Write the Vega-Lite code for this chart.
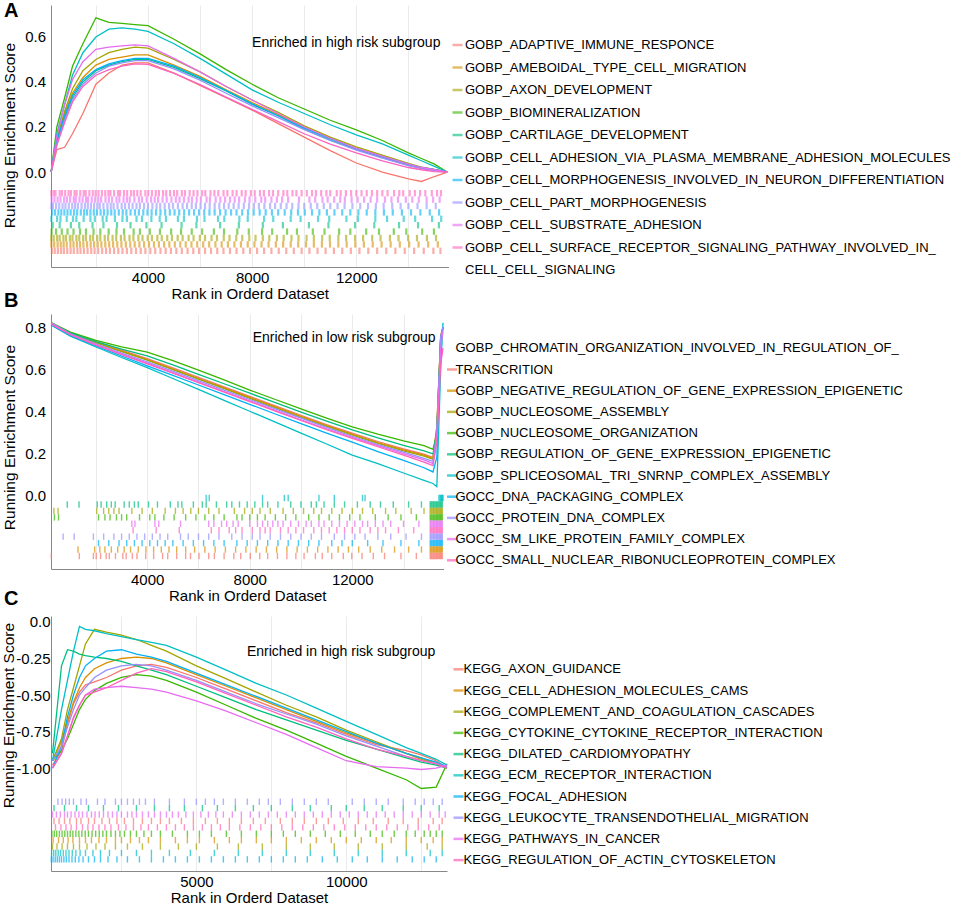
{
  "$schema": "https://vega.github.io/schema/vega-lite/v6.json",
  "background": "white",
  "padding": {"left": 0, "top": 1, "right": 0, "bottom": 0},
  "spacing": 47,
  "bounds": "flush",
  "resolve": {"scale": {"x": "independent", "y": "independent", "color": "independent"}, "legend": {"color": "independent"}},
  "datasets": {
    "note": [{}],
    "curveA": [
      {"set": "GOBP_ADAPTIVE_IMMUNE_RESPONCE", "rank": [280,500,800,1100,1500,2000,2500,3000,3500,4000,5000,6000,7000,8000,9000,10000,11000,12000,13000,14000,14500,15000,15490], "es": [0,0.10,0.11,0.17,0.26,0.39,0.44,0.475,0.485,0.485,0.44,0.385,0.33,0.275,0.215,0.155,0.095,0.04,0.0,-0.03,-0.042,-0.02,0.0]},
      {"set": "GOBP_AMEBOIDAL_TYPE_CELL_MIGRATION", "rank": [280,500,800,1100,1500,2000,2500,3000,3500,4000,5000,6000,7000,8000,9000,10000,11000,12000,13000,14000,14500,15000,15490], "es": [0,0.15,0.26,0.35,0.42,0.475,0.5,0.51,0.52,0.52,0.475,0.425,0.365,0.308,0.255,0.2,0.15,0.105,0.07,0.035,0.02,0.01,0.0]},
      {"set": "GOBP_AXON_DEVELOPMENT", "rank": [280,500,800,1100,1500,2000,2500,3000,3500,4000,5000,6000,7000,8000,9000,10000,11000,12000,13000,14000,14500,15000,15490], "es": [0,0.15,0.27,0.37,0.45,0.5,0.53,0.545,0.555,0.55,0.5,0.445,0.38,0.32,0.265,0.205,0.155,0.112,0.075,0.038,0.022,0.012,0.0]},
      {"set": "GOBP_BIOMINERALIZATION", "rank": [280,500,800,1100,1500,2000,2500,3000,3500,4000,5000,6000,7000,8000,9000,10000,11000,12000,13000,14000,14500,15000,15490], "es": [0,0.2,0.33,0.47,0.57,0.685,0.665,0.66,0.655,0.65,0.59,0.525,0.455,0.39,0.33,0.28,0.23,0.187,0.14,0.085,0.06,0.035,0.0]},
      {"set": "GOBP_CARTILAGE_DEVELOPMENT", "rank": [280,500,800,1100,1500,2000,2500,3000,3500,4000,5000,6000,7000,8000,9000,10000,11000,12000,13000,14000,14500,15000,15490], "es": [0,0.13,0.24,0.33,0.4,0.45,0.475,0.49,0.5,0.5,0.465,0.415,0.36,0.3,0.25,0.19,0.142,0.1,0.065,0.03,0.018,0.008,0.0]},
      {"set": "GOBP_CELL_ADHESION_VIA_PLASMA_MEMBRANE_ADHESION_MOLECULES", "rank": [280,500,800,1100,1500,2000,2500,3000,3500,4000,5000,6000,7000,8000,9000,10000,11000,12000,13000,14000,14500,15000,15490], "es": [0,0.17,0.3,0.43,0.53,0.6,0.635,0.64,0.635,0.625,0.57,0.505,0.435,0.365,0.31,0.26,0.21,0.165,0.125,0.075,0.05,0.025,0.0]},
      {"set": "GOBP_CELL_MORPHOGENESIS_INVOLVED_IN_NEURON_DIFFERENTIATION", "rank": [280,500,800,1100,1500,2000,2500,3000,3500,4000,5000,6000,7000,8000,9000,10000,11000,12000,13000,14000,14500,15000,15490], "es": [0,0.14,0.25,0.34,0.41,0.455,0.48,0.495,0.505,0.505,0.47,0.42,0.362,0.303,0.25,0.195,0.148,0.104,0.068,0.034,0.02,0.01,0.0]},
      {"set": "GOBP_CELL_PART_MORPHOGENESIS", "rank": [280,500,800,1100,1500,2000,2500,3000,3500,4000,5000,6000,7000,8000,9000,10000,11000,12000,13000,14000,14500,15000,15490], "es": [0,0.12,0.23,0.32,0.39,0.44,0.47,0.485,0.495,0.495,0.458,0.408,0.35,0.294,0.242,0.188,0.14,0.097,0.062,0.028,0.015,0.006,0.0]},
      {"set": "GOBP_CELL_SUBSTRATE_ADHESION", "rank": [280,500,800,1100,1500,2000,2500,3000,3500,4000,5000,6000,7000,8000,9000,10000,11000,12000,13000,14000,14500,15000,15490], "es": [0,0.16,0.3,0.41,0.49,0.545,0.555,0.56,0.565,0.56,0.505,0.445,0.38,0.32,0.26,0.2,0.15,0.105,0.07,0.035,0.02,0.01,0.0]},
      {"set": "GOBP_CELL_SURFACE_RECEPTOR_SIGNALING_PATHWAY_INVOLVED_IN_CELL_CELL_SIGNALING", "rank": [280,500,800,1100,1500,2000,2500,3000,3500,4000,5000,6000,7000,8000,9000,10000,11000,12000,13000,14000,14500,15000,15490], "es": [0,0.12,0.22,0.31,0.38,0.43,0.455,0.47,0.48,0.478,0.438,0.388,0.333,0.278,0.224,0.17,0.124,0.085,0.05,0.02,0.01,0.002,0.0]}
    ],
    "tickA": [
      {"set": "GOBP_CELL_SURFACE_RECEPTOR_SIGNALING_PATHWAY_INVOLVED_IN_CELL_CELL_SIGNALING", "row": 10, "rank": [290,380,450,610,700,820,950,1040,1180,1260,1400,1530,1610,1750,1880,1990,2100,2230,2360,2480,2560,2700,2850,2930,3080,3200,3350,3460,3590,3720,3900,4010,4150,4300,4420,4580,4700,4850,5000,5120,5300,5420,5600,5750,5900,6080,6200,6400,6550,6700,6900,7050,7250,7400,7600,7750,7950,8100,8300,8450,8650,8800,9000,9200,9350,9550,9700,9900,10100,10300,10450,10650,10850,11000,11250,11400,11600,11800,12000,12200,12400,12600,12800,13000,13200,13450,13650,13800,14050,14250,14450,14650,14900,15100,15250]},
      {"set": "GOBP_CELL_SUBSTRATE_ADHESION", "row": 9, "rank": [300,410,530,640,780,890,1010,1150,1230,1370,1490,1620,1700,1840,1970,2090,2200,2370,2500,2620,2790,2900,3060,3190,3300,3480,3650,3770,3950,4120,4260,4390,4560,4720,4900,5070,5210,5380,5560,5690,5870,6030,6250,6380,6600,6780,6960,7150,7330,7500,7720,7900,8120,8350,8500,8740,8950,9150,9380,9800,10200,10420,10700,10900,11150,11380,11560,11820,12050,12300,12550,12800,13100,13350,13600,13900,14150,14400,14700,14950,15200]},
      {"set": "GOBP_CELL_PART_MORPHOGENESIS", "row": 8, "rank": [290,350,470,590,720,830,960,1090,1200,1310,1450,1580,1690,1810,1930,2060,2150,2290,2440,2570,2680,2830,2990,3120,3270,3410,3560,3690,3850,4000,4170,4330,4470,4640,4810,4960,5150,5330,5500,5680,5840,6020,6190,6370,6560,6740,6920,7100,7290,7480,7680,7880,8070,8260,8470,8690,8880,9100,9320,9540,9780,10000,10250,10500,10750,11000,11280,11550,11850,12150,12450,12750,13050,13380,13700,14000,14350,14700,15050]},
      {"set": "GOBP_CELL_MORPHOGENESIS_INVOLVED_IN_NEURON_DIFFERENTIATION", "row": 7, "rank": [320,430,560,670,790,910,1030,1160,1280,1420,1550,1660,1790,1920,2040,2180,2310,2450,2590,2720,2880,3030,3170,3330,3500,3650,3820,3980,4140,4310,4480,4660,4840,5020,5200,5390,5580,5770,5960,6160,6360,6560,6770,6980,7190,7400,7620,7840,8060,8290,8520,8760,9000,9250,9500,9760,10020,10300,10580,10870,11160,11460,11770,12080,12400,12730,13060,13400,13750,14100,14460,14820,15180]},
      {"set": "GOBP_CELL_ADHESION_VIA_PLASMA_MEMBRANE_ADHESION_MOLECULES", "row": 6, "rank": [290,510,640,880,1120,1250,1530,1790,1960,2260,2410,2730,3020,3190,3560,3770,4130,4450,4690,5150,5380,5880,6170,6690,6930,7510,7830,8460,8810,9480,9860,10530,10960,11620,12060,12730,13180,13820,14260,14910,15260]},
      {"set": "GOBP_CARTILAGE_DEVELOPMENT", "row": 5, "rank": [340,610,1040,1360,1870,2290,2810,3330,3940,4520,5290,5860,6770,7490,8410,9180,10180,10930,11950,12690,13640,14370,15170]},
      {"set": "GOBP_BIOMINERALIZATION", "row": 4, "rank": [300,470,690,910,1140,1390,1620,1910,2170,2490,2790,3080,3450,3690,4070,4460,4890,5270,5680,6080,6530,6920,7430,7870,8380,8770,9340,9720,10330,10780,11340,11770,12380,12870,13440,13920,14530,14980]},
      {"set": "GOBP_AXON_DEVELOPMENT", "row": 3, "rank": [285,380,510,610,750,850,1000,1100,1250,1360,1510,1620,1780,1890,2050,2170,2340,2470,2640,2780,2960,3100,3290,3440,3630,3790,3990,4150,4360,4530,4740,4920,5140,5330,5560,5750,5990,6190,6440,6650,6910,7130,7390,7620,7890,8130,8410,8660,8950,9210,9510,9780,10090,10370,10690,10980,11310,11610,11950,12260,12610,12930,13290,13620,13990,14330,14710,15060]},
      {"set": "GOBP_AMEBOIDAL_TYPE_CELL_MIGRATION", "row": 2, "rank": [290,400,530,650,760,880,1020,1140,1270,1390,1520,1660,1800,1930,2070,2210,2360,2510,2660,2820,2980,3150,3320,3490,3670,3850,4040,4230,4420,4620,4820,5030,5240,5450,5670,5890,6120,6350,6590,6830,7070,7320,7570,7830,8090,8360,8630,8910,9190,9480,9770,10070,10370,10680,10990,11310,11630,11960,12290,12630,12970,13320,13670,14030,14390,14760,15130]},
      {"set": "GOBP_ADAPTIVE_IMMUNE_RESPONCE", "row": 1, "rank": [310,420,540,660,770,900,1030,1150,1290,1410,1540,1680,1820,1950,2090,2240,2390,2540,2700,2860,3020,3190,3360,3540,3720,3900,4090,4280,4480,4680,4880,5090,5300,5520,5740,5960,6190,6420,6660,6900,7150,7400,7660,7920,8190,8460,8740,9020,9310,9600,9900,10200,10510,10820,11140,11460,11790,12120,12460,12800,13150,13500,13860,14220,14590,14960,15230]}
    ],
    "curveB": [
      {"set": "GOBP_CHROMATIN_ORGANIZATION_INVOLVED_IN_REGULATION_OF_TRANSCRITION", "rank": [250,1000,2000,3000,4000,5000,6000,7000,8000,9000,10000,11000,12000,13000,14000,14800,15150,15300,15450,15540], "es": [0.82,0.775,0.73,0.69,0.65,0.605,0.56,0.515,0.47,0.425,0.38,0.335,0.295,0.255,0.22,0.195,0.18,0.33,0.76,0.8]},
      {"set": "GOBP_NEGATIVE_REGULATION_OF_GENE_EXPRESSION_EPIGENETIC", "rank": [250,1000,2000,3000,4000,5000,6000,7000,8000,9000,10000,11000,12000,13000,14000,14800,15150,15300,15450,15540], "es": [0.82,0.772,0.726,0.685,0.645,0.6,0.555,0.51,0.465,0.42,0.375,0.331,0.29,0.25,0.215,0.19,0.175,0.32,0.75,0.8]},
      {"set": "GOBP_NUCLEOSOME_ASSEMBLY", "rank": [250,1000,2000,3000,4000,5000,6000,7000,8000,9000,10000,11000,12000,13000,14000,14800,15150,15300,15450,15540], "es": [0.82,0.77,0.724,0.683,0.642,0.597,0.552,0.507,0.46,0.415,0.37,0.327,0.285,0.246,0.21,0.185,0.17,0.31,0.75,0.8]},
      {"set": "GOBP_NUCLEOSOME_ORGANIZATION", "rank": [250,1000,2000,3000,4000,5000,6000,7000,8000,9000,10000,11000,12000,13000,14000,14800,15150,15300,15450,15540], "es": [0.82,0.776,0.737,0.706,0.68,0.64,0.595,0.548,0.5,0.455,0.41,0.366,0.325,0.29,0.258,0.235,0.218,0.29,0.72,0.8]},
      {"set": "GOBP_REGULATION_OF_GENE_EXPRESSION_EPIGENETIC", "rank": [250,1000,2000,3000,4000,5000,6000,7000,8000,9000,10000,11000,12000,13000,14000,14800,15150,15300,15450,15540], "es": [0.82,0.772,0.73,0.695,0.663,0.62,0.575,0.53,0.485,0.44,0.395,0.352,0.31,0.272,0.236,0.21,0.196,0.3,0.74,0.8]},
      {"set": "GOBP_SPLICEOSOMAL_TRI_SNRNP_COMPLEX_ASSEMBLY", "rank": [250,1000,2000,3000,4000,5000,6000,7000,8000,9000,10000,11000,12000,13000,14000,14800,15150,15300,15450,15540], "es": [0.81,0.757,0.705,0.655,0.607,0.555,0.503,0.451,0.399,0.347,0.295,0.243,0.19,0.15,0.105,0.07,0.055,0.04,0.6,0.82]},
      {"set": "GOCC_DNA_PACKAGING_COMPLEX", "rank": [250,1000,2000,3000,4000,5000,6000,7000,8000,9000,10000,11000,12000,13000,14000,14800,15150,15300,15450,15540], "es": [0.81,0.76,0.71,0.662,0.615,0.57,0.524,0.478,0.432,0.386,0.34,0.295,0.252,0.207,0.165,0.13,0.11,0.18,0.75,0.8]},
      {"set": "GOCC_PROTEIN_DNA_COMPLEX", "rank": [250,1000,2000,3000,4000,5000,6000,7000,8000,9000,10000,11000,12000,13000,14000,14800,15150,15300,15450,15540], "es": [0.82,0.768,0.72,0.676,0.634,0.59,0.545,0.5,0.455,0.41,0.366,0.322,0.28,0.24,0.204,0.175,0.16,0.3,0.75,0.8]},
      {"set": "GOCC_SM_LIKE_PROTEIN_FAMILY_COMPLEX", "rank": [250,1000,2000,3000,4000,5000,6000,7000,8000,9000,10000,11000,12000,13000,14000,14800,15150,15300,15450,15540], "es": [0.815,0.765,0.716,0.671,0.628,0.583,0.538,0.493,0.448,0.403,0.358,0.315,0.275,0.235,0.197,0.167,0.15,0.28,0.7,0.78]},
      {"set": "GOCC_SMALL_NUCLEAR_RIBONUCLEOPROTEIN_COMPLEX", "rank": [250,1000,2000,3000,4000,5000,6000,7000,8000,9000,10000,11000,12000,13000,14000,14800,15150,15300,15450,15540], "es": [0.815,0.764,0.714,0.668,0.625,0.58,0.535,0.49,0.445,0.4,0.355,0.311,0.27,0.23,0.19,0.157,0.14,0.25,0.62,0.7]}
    ],
    "tickB": [
      {"set": "GOBP_SPLICEOSOMAL_TRI_SNRNP_COMPLEX_ASSEMBLY", "row": 10, "rank": [6300,6420,8500,9350,9500,10700,11300,12400,12500,15380,15420,15450,15480,15500,15520,15540]},
      {"set": "GOBP_REGULATION_OF_GENE_EXPRESSION_EPIGENETIC", "row": 9, "rank": [880,1340,2050,2200,2420,2600,2750,3100,3300,3500,3650,4050,4400,4900,5200,5350,5800,6150,6300,6700,7100,7300,7600,7900,8200,8500,8700,9100,9600,10000,10400,10600,10900,11300,11700,12200,12700,13100,13600,14200,14700,15040,15075,15110,15150,15180,15220,15260,15295,15330,15370,15410,15445,15480,15515]},
      {"set": "GOBP_NUCLEOSOME_ASSEMBLY", "row": 8, "rank": [360,520,2030,2300,2500,2700,2900,3400,3800,4200,4700,5100,5400,5700,6000,6400,6800,7400,7800,8100,8400,8800,9300,9700,10100,10500,10800,11200,11600,12000,12400,12800,13300,13700,14300,14800,15040,15075,15110,15150,15180,15220,15260,15295,15330,15370,15410,15445,15480,15515]},
      {"set": "GOBP_NUCLEOSOME_ORGANIZATION", "row": 7, "rank": [380,540,2100,2350,2550,2800,3000,3200,3700,4100,4300,4650,5050,5500,5900,6250,6600,7000,7500,7700,8000,8300,8600,9000,9400,9800,10300,10700,11100,11500,11900,12300,12900,13400,13900,14500,15040,15075,15110,15150,15180,15220,15260,15295,15330,15370,15410,15445,15480,15515]},
      {"set": "GOCC_SM_LIKE_PROTEIN_FAMILY_COMPLEX", "row": 6, "rank": [3400,3520,4300,4450,5300,6400,6600,6900,7100,7350,7550,8000,8300,8500,8700,8900,9100,9300,9600,9900,10200,10400,10700,10900,11200,11500,11800,12100,12400,12600,12900,13200,13500,14000,14600,15040,15075,15110,15150,15180,15220,15260,15295,15330,15370,15410,15445,15480,15515]},
      {"set": "GOCC_SMALL_NUCLEAR_RIBONUCLEOPROTEIN_COMPLEX", "row": 5, "rank": [3450,4350,5250,6500,6800,7200,7450,7700,8100,8400,8600,8800,9200,9500,9800,10100,10500,10800,11100,11400,11700,12000,12300,12700,13000,13300,13800,14400,15040,15075,15110,15150,15180,15220,15260,15295,15330,15370,15410,15445,15480,15515]},
      {"set": "GOCC_PROTEIN_DNA_COMPLEX", "row": 4, "rank": [720,1150,1900,2300,2700,3000,3300,3600,3900,4200,4500,4800,5300,5600,6000,6400,6800,7300,7700,8100,8400,8800,9200,9600,10000,10400,10800,11300,11700,12100,12500,13000,13500,14100,14700,15040,15075,15110,15150,15180,15220,15260,15295,15330,15370,15410,15445,15480,15515]},
      {"set": "GOCC_DNA_PACKAGING_COMPLEX", "row": 3, "rank": [2100,2500,2900,3200,3500,3800,4100,4400,4700,5000,5400,5800,6200,6600,7000,7500,7900,8300,8700,9100,9500,9900,10300,10700,11200,11600,12000,12600,13200,13900,14600,15040,15075,15110,15150,15180,15220,15260,15295,15330,15370,15410,15445,15480,15515]},
      {"set": "GOBP_NEGATIVE_REGULATION_OF_GENE_EXPRESSION_EPIGENETIC", "row": 2, "rank": [1300,1950,2150,2350,2600,2850,3100,3350,3650,3950,4250,4550,4850,5150,5500,5850,6250,6650,7050,7450,7850,8250,8650,9050,9450,9850,10250,10650,11050,11450,11850,12250,12700,13150,13650,14200,14700,15040,15075,15110,15150,15180,15220,15260,15295,15330,15370,15410,15445,15480,15515]},
      {"set": "GOBP_CHROMATIN_ORGANIZATION_INVOLVED_IN_REGULATION_OF_TRANSCRITION", "row": 1, "rank": [260,1350,1900,2010,2180,2400,2520,2760,3050,3180,3420,3600,3940,4250,4600,4800,5150,5500,5690,6020,6400,6620,7000,7380,7650,8020,8390,8700,9080,9450,9800,10120,10560,10830,11200,11650,11980,12380,12820,13260,13900,14500,15040,15075,15110,15150,15180,15220,15260,15295,15330,15370,15410,15445,15480,15515]}
    ],
    "curveC": [
      {"set": "KEGG_AXON_GUIDANCE", "rank": [200,500,700,900,1100,1300,1600,2000,2500,3000,3500,4000,5000,6000,7000,8000,9000,10000,11000,12000,12500,13000,13360], "es": [-0.98,-0.88,-0.7,-0.56,-0.48,-0.43,-0.41,-0.38,-0.33,-0.3,-0.29,-0.31,-0.38,-0.46,-0.54,-0.62,-0.69,-0.77,-0.84,-0.88,-0.91,-0.95,-1.0]},
      {"set": "KEGG_CELL_ADHESION_MOLECULES_CAMS", "rank": [200,500,700,900,1100,1300,1600,2000,2500,3000,3500,4000,5000,6000,7000,8000,9000,10000,11000,12000,12500,13000,13360], "es": [-0.95,-0.82,-0.68,-0.55,-0.45,-0.38,-0.32,-0.28,-0.25,-0.24,-0.25,-0.28,-0.36,-0.44,-0.52,-0.6,-0.68,-0.76,-0.83,-0.9,-0.94,-0.97,-1.0]},
      {"set": "KEGG_COMPLEMENT_AND_COAGULATION_CASCADES", "rank": [200,500,700,900,1100,1300,1600,2000,2500,3000,3500,4000,5000,6000,7000,8000,9000,10000,11000,12000,12500,13000,13360], "es": [-0.95,-0.8,-0.6,-0.45,-0.3,-0.15,-0.05,-0.07,-0.09,-0.12,-0.16,-0.2,-0.3,-0.39,-0.48,-0.57,-0.65,-0.74,-0.82,-0.9,-0.93,-0.97,-0.99]},
      {"set": "KEGG_CYTOKINE_CYTOKINE_RECEPTOR_INTERACTION", "rank": [200,500,700,900,1100,1300,1600,2000,2500,3000,3500,4000,5000,6000,7000,8000,9000,10000,11000,12000,12500,13000,13360], "es": [-0.95,-0.88,-0.8,-0.7,-0.6,-0.53,-0.47,-0.42,-0.38,-0.36,-0.37,-0.4,-0.48,-0.57,-0.66,-0.74,-0.83,-0.92,-1.0,-1.08,-1.14,-1.13,-0.97]},
      {"set": "KEGG_DILATED_CARDIOMYOPATHY", "rank": [200,500,700,900,1100,1300,1600,2000,2500,3000,3500,4000,5000,6000,7000,8000,9000,10000,11000,12000,12500,13000,13360], "es": [-0.9,-0.3,-0.19,-0.2,-0.22,-0.23,-0.24,-0.25,-0.27,-0.3,-0.33,-0.36,-0.44,-0.52,-0.6,-0.67,-0.74,-0.81,-0.87,-0.93,-0.96,-0.98,-1.0]},
      {"set": "KEGG_ECM_RECEPTOR_INTERACTION", "rank": [200,500,700,900,1100,1300,1600,2000,2500,3000,3500,4000,5000,6000,7000,8000,9000,10000,11000,12000,12500,13000,13360], "es": [-0.95,-0.6,-0.4,-0.2,-0.03,-0.05,-0.06,-0.08,-0.1,-0.12,-0.14,-0.16,-0.24,-0.33,-0.42,-0.5,-0.59,-0.68,-0.77,-0.86,-0.9,-0.94,-0.98]},
      {"set": "KEGG_FOCAL_ADHESION", "rank": [200,500,700,900,1100,1300,1600,2000,2500,3000,3500,4000,5000,6000,7000,8000,9000,10000,11000,12000,12500,13000,13360], "es": [-1.0,-0.85,-0.65,-0.5,-0.38,-0.3,-0.25,-0.2,-0.19,-0.22,-0.24,-0.27,-0.35,-0.43,-0.51,-0.59,-0.67,-0.75,-0.83,-0.9,-0.93,-0.96,-0.99]},
      {"set": "KEGG_LEUKOCYTE_TRANSENDOTHELIAL_MIGRATION", "rank": [200,500,700,900,1100,1300,1600,2000,2500,3000,3500,4000,5000,6000,7000,8000,9000,10000,11000,12000,12500,13000,13360], "es": [-0.95,-0.85,-0.72,-0.6,-0.5,-0.45,-0.38,-0.33,-0.3,-0.29,-0.3,-0.33,-0.4,-0.48,-0.56,-0.63,-0.7,-0.78,-0.85,-0.92,-0.95,-0.97,-0.99]},
      {"set": "KEGG_PATHWAYS_IN_CANCER", "rank": [200,500,700,900,1100,1300,1600,2000,2500,3000,3500,4000,5000,6000,7000,8000,9000,10000,11000,12000,12500,13000,13360], "es": [-1.0,-0.9,-0.78,-0.66,-0.57,-0.5,-0.46,-0.45,-0.44,-0.45,-0.46,-0.48,-0.54,-0.61,-0.69,-0.77,-0.86,-0.95,-0.99,-1.0,-1.01,-1.0,-0.98]},
      {"set": "KEGG_REGULATION_OF_ACTIN_CYTOSKELETON", "rank": [200,500,700,900,1100,1300,1600,2000,2500,3000,3500,4000,5000,6000,7000,8000,9000,10000,11000,12000,12500,13000,13360], "es": [-1.0,-0.9,-0.78,-0.65,-0.57,-0.5,-0.48,-0.45,-0.4,-0.35,-0.32,-0.34,-0.41,-0.49,-0.57,-0.65,-0.72,-0.8,-0.87,-0.92,-0.95,-0.97,-1.0]}
    ],
    "tickC": [
      {"set": "KEGG_LEUKOCYTE_TRANSENDOTHELIAL_MIGRATION", "row": 10, "rank": [380,520,640,760,900,1150,1330,1700,1950,2300,2500,2700,2900,3100,3300,3600,4100,4600,5000,5300,5600,5900,6300,6700,7100,7400,7800,8200,8600,9000,9400,10200,10600,11000,11400,11900,12300,12600,12900,13200]},
      {"set": "KEGG_DILATED_CARDIOMYOPATHY", "row": 9, "rank": [250,600,1000,1400,1900,2400,3000,3600,4100,4600,5200,5700,6300,6900,7500,8200,8800,9500,10000,10600,11200,11900,12500,13100]},
      {"set": "KEGG_PATHWAYS_IN_CANCER", "row": 8, "rank": [200,330,460,600,700,820,950,1080,1200,1350,1500,1620,1760,1900,2050,2200,2350,2500,2700,2850,3000,3200,3400,3600,3800,4000,4200,4400,4650,4900,5150,5400,5650,5900,6200,6500,6800,7100,7400,7700,8000,8300,8600,8900,9200,9500,9800,10100,10400,10700,11000,11300,11600,11900,12200,12500,12800,13100,13300]},
      {"set": "KEGG_AXON_GUIDANCE", "row": 7, "rank": [250,420,600,780,1000,1150,1400,1600,1850,2100,2350,2600,2900,3200,3500,3800,4100,4500,4900,5300,5700,6100,6500,6900,7300,7800,8200,8600,9000,9400,9900,10400,10900,11400,11900,12400,12900,13200]},
      {"set": "KEGG_REGULATION_OF_ACTIN_CYTOSKELETON", "row": 6, "rank": [300,480,650,820,1000,1200,1380,1550,1750,1950,2150,2400,2650,2900,3150,3400,3700,4000,4300,4600,4900,5200,5500,5800,6100,6450,6800,7150,7500,7850,8200,8550,8900,9250,9600,9950,10300,10650,11000,11350,11700,12050,12400,12750,13100]},
      {"set": "KEGG_CYTOKINE_CYTOKINE_RECEPTOR_INTERACTION", "row": 5, "rank": [180,260,340,430,520,610,700,790,880,980,1080,1180,1290,1400,1520,1640,1760,1880,2000,2150,2300,2450,2600,2800,3000,3250,3500,3800,4200,4700,5100,5500,6000,6500,7000,7500,7900,8300,8800,9300,9800,10300,10800,11200,11600,12000,12300,12600,12800,13000,13200]},
      {"set": "KEGG_CELL_ADHESION_MOLECULES_CAMS", "row": 4, "rank": [220,400,560,720,880,1100,1300,1500,1750,2000,2300,2500,2800,3100,3400,3800,4300,4700,5100,5600,6100,6500,7000,7500,8000,8500,9000,9500,10000,10500,11000,11500,12000,12500,12900,13200]},
      {"set": "KEGG_COMPLEMENT_AND_COAGULATION_CASCADES", "row": 3, "rank": [200,350,520,700,900,1100,1350,1650,1950,2300,2700,3200,3800,4400,5000,5700,6400,7200,8000,8800,9600,10400,11200,12000,12700,13200]},
      {"set": "KEGG_ECM_RECEPTOR_INTERACTION", "row": 2, "rank": [170,240,310,390,470,560,650,750,860,980,1120,1300,1550,1800,2100,2500,3000,3500,4100,4800,5600,6400,7200,8000,8800,9600,10400,11200,12000,12800,13200]},
      {"set": "KEGG_FOCAL_ADHESION", "row": 1, "rank": [160,220,290,360,430,500,580,660,750,850,960,1080,1220,1400,1600,1800,2050,2350,2700,3100,3500,3900,4300,4700,5100,5500,5900,6300,6700,7100,7500,7900,8300,8700,9200,9700,10200,10700,11200,11700,12200,12600,13000]}
    ]
  },
  "vconcat": [
    {
      "width": 397.5,
      "height": 262,
      "layer": [
        {
          "layer": [
            {
              "data": {"name": "curveA"},
              "transform": [{"flatten": ["rank", "es"]}],
              "mark": {"type": "line", "strokeWidth": 1.3},
              "encoding": {
                "x": {"field": "rank", "type": "quantitative", "scale": {"domain": [276, 15540], "nice": false, "zero": false},
                      "axis": {"values": [2000, 4000, 6000, 8000, 10000, 12000, 14000], "format": "d", "labelExpr": "datum.value % 4000 == 0 ? datum.label : ''", "title": "Rank in Orderd Dataset"}},
                "y": {"field": "es", "type": "quantitative", "scale": {"domain": [-0.422, 0.742], "nice": false, "zero": false},
                      "axis": {"values": [0, 0.2, 0.4, 0.6], "format": ".1f", "title": "Running Enrichment Score", "labelPadding": 5.5, "titleX": -34, "titleY": 130}},
                "color": {"field": "set", "type": "nominal",
                  "scale": {"domain": ["GOBP_ADAPTIVE_IMMUNE_RESPONCE", "GOBP_AMEBOIDAL_TYPE_CELL_MIGRATION", "GOBP_AXON_DEVELOPMENT", "GOBP_BIOMINERALIZATION", "GOBP_CARTILAGE_DEVELOPMENT", "GOBP_CELL_ADHESION_VIA_PLASMA_MEMBRANE_ADHESION_MOLECULES", "GOBP_CELL_MORPHOGENESIS_INVOLVED_IN_NEURON_DIFFERENTIATION", "GOBP_CELL_PART_MORPHOGENESIS", "GOBP_CELL_SUBSTRATE_ADHESION", "GOBP_CELL_SURFACE_RECEPTOR_SIGNALING_PATHWAY_INVOLVED_IN_CELL_CELL_SIGNALING", "CELL_CELL_SIGNALING"],
                            "range": ["#F8766D", "#D89000", "#A3A500", "#39B600", "#00BF7D", "#00BFC4", "#00B0F6", "#9590FF", "#E76BF3", "#FF62BC", "transparent"]},
                  "legend": {"title": null, "orient": "none", "legendX": 400, "legendY": 33.5, "direction": "vertical", "padding": 0, "rowPadding": 8.5, "symbolType": "stroke", "symbolSize": 100, "symbolStrokeWidth": 2.5, "symbolOpacity": 1, "labelFontSize": 13, "labelOffset": 1, "labelLimit": 800, "labelColor": "#000",
                    "labelExpr": "datum.label == 'GOBP_CELL_SURFACE_RECEPTOR_SIGNALING_PATHWAY_INVOLVED_IN_CELL_CELL_SIGNALING' ? 'GOBP_CELL_SURFACE_RECEPTOR_SIGNALING_PATHWAY_INVOLVED_IN_' : datum.label"}}
              }
            },
            {
              "data": {"name": "note"},
              "mark": {"type": "text", "align": "right", "baseline": "middle", "fontSize": 14, "color": "#000"},
              "encoding": {"x": {"datum": 15230, "type": "quantitative"}, "y": {"datum": 0.573, "type": "quantitative"}, "text": {"value": "Enriched in high risk subgroup"}}
            },
            {
              "data": {"name": "note"},
              "mark": {"type": "text", "align": "left", "baseline": "alphabetic", "fontSize": 20, "fontWeight": "bold", "color": "#000"},
              "encoding": {"x": {"datum": -1529, "type": "quantitative"}, "y": {"datum": 0.688, "type": "quantitative"}, "text": {"value": "A"}}
            }
          ]
        },
        {
          "data": {"name": "tickA"},
          "transform": [{"flatten": ["rank"]}],
          "mark": {"type": "tick", "orient": "vertical", "thickness": 2.2, "size": 6.4, "opacity": 0.6},
          "encoding": {
            "x": {"field": "rank", "type": "quantitative"},
            "y": {"field": "row", "type": "quantitative", "scale": {"domain": [-1.53, 39.41], "nice": false, "zero": false}, "axis": null},
            "color": {"field": "set", "type": "nominal"}
          }
        }
      ],
      "resolve": {"scale": {"y": "independent"}}
    },
    {
      "width": 392.5,
      "height": 255,
      "layer": [
        {
          "layer": [
            {
              "data": {"name": "curveB"},
              "transform": [{"flatten": ["rank", "es"]}],
              "mark": {"type": "line", "strokeWidth": 1.3},
              "encoding": {
                "x": {"field": "rank", "type": "quantitative", "scale": {"domain": [246, 15560], "nice": false, "zero": false},
                      "axis": {"values": [2000, 4000, 6000, 8000, 10000, 12000, 14000], "format": "d", "labelExpr": "datum.value % 4000 == 0 ? datum.label : ''", "title": "Rank in Orderd Dataset"}},
                "y": {"field": "es", "type": "quantitative", "scale": {"domain": [-0.352, 0.862], "nice": false, "zero": false},
                      "axis": {"values": [0, 0.2, 0.4, 0.6, 0.8], "format": ".1f", "title": "Running Enrichment Score", "labelPadding": 5.5, "titleX": -34, "titleY": 123}},
                "color": {"field": "set", "type": "nominal",
                  "scale": {"domain": ["GOBP_CHROMATIN_ORGANIZATION_INVOLVED_IN_REGULATION_OF_", "GOBP_CHROMATIN_ORGANIZATION_INVOLVED_IN_REGULATION_OF_TRANSCRITION", "GOBP_NEGATIVE_REGULATION_OF_GENE_EXPRESSION_EPIGENETIC", "GOBP_NUCLEOSOME_ASSEMBLY", "GOBP_NUCLEOSOME_ORGANIZATION", "GOBP_REGULATION_OF_GENE_EXPRESSION_EPIGENETIC", "GOBP_SPLICEOSOMAL_TRI_SNRNP_COMPLEX_ASSEMBLY", "GOCC_DNA_PACKAGING_COMPLEX", "GOCC_PROTEIN_DNA_COMPLEX", "GOCC_SM_LIKE_PROTEIN_FAMILY_COMPLEX", "GOCC_SMALL_NUCLEAR_RIBONUCLEOPROTEIN_COMPLEX"],
                            "range": ["transparent", "#F8766D", "#D89000", "#A3A500", "#39B600", "#00BF7D", "#00BFC4", "#00B0F6", "#9590FF", "#E76BF3", "#FF62BC"]},
                  "legend": {"title": null, "orient": "none", "legendX": 394.5, "legendY": 27.8, "direction": "vertical", "padding": 0, "rowPadding": 7.2, "symbolType": "stroke", "symbolSize": 100, "symbolStrokeWidth": 2.5, "symbolOpacity": 1, "labelFontSize": 13, "labelOffset": -3, "labelLimit": 800, "labelColor": "#000",
                    "labelExpr": "datum.label == 'GOBP_CHROMATIN_ORGANIZATION_INVOLVED_IN_REGULATION_OF_TRANSCRITION' ? 'TRANSCRITION' : datum.label"}}
              }
            },
            {
              "data": {"name": "note"},
              "mark": {"type": "text", "align": "right", "baseline": "middle", "fontSize": 14, "color": "#000"},
              "encoding": {"x": {"datum": 15250, "type": "quantitative"}, "y": {"datum": 0.748, "type": "quantitative"}, "text": {"value": "Enriched in low risk subgroup"}}
            },
            {
              "data": {"name": "note"},
              "mark": {"type": "text", "align": "left", "baseline": "alphabetic", "fontSize": 20, "fontWeight": "bold", "color": "#000"},
              "encoding": {"x": {"datum": -1588, "type": "quantitative"}, "y": {"datum": 0.897, "type": "quantitative"}, "text": {"value": "B"}}
            }
          ]
        },
        {
          "data": {"name": "tickB"},
          "transform": [{"flatten": ["rank"]}],
          "mark": {"type": "tick", "orient": "vertical", "thickness": 1.4, "size": 6.4, "opacity": 0.7},
          "encoding": {
            "x": {"field": "rank", "type": "quantitative"},
            "y": {"field": "row", "type": "quantitative", "scale": {"domain": [-1.02, 38.58], "nice": false, "zero": false}, "axis": null},
            "color": {"field": "set", "type": "nominal"}
          }
        }
      ],
      "resolve": {"scale": {"y": "independent"}}
    },
    {
      "width": 396,
      "height": 255,
      "layer": [
        {
          "layer": [
            {
              "data": {"name": "curveC"},
              "transform": [{"flatten": ["rank", "es"]}],
              "mark": {"type": "line", "strokeWidth": 1.3},
              "encoding": {
                "x": {"field": "rank", "type": "quantitative", "scale": {"domain": [150, 13360], "nice": false, "zero": false},
                      "axis": {"values": [2500, 5000, 7500, 10000, 12500], "format": "d", "labelExpr": "datum.value % 5000 == 0 ? datum.label : ''", "title": "Rank in Orderd Dataset"}},
                "y": {"field": "es", "type": "quantitative", "scale": {"domain": [-1.705, 0.041], "nice": false, "zero": false},
                      "axis": {"values": [0, -0.25, -0.5, -0.75, -1], "labelExpr": "datum.value == 0 ? '0.0' : replace(format(datum.value, '.2f'), '\u2212', '-')", "title": "Running Enrichment Score", "labelPadding": 1, "titleX": -35, "titleY": 99}},
                "color": {"field": "set", "type": "nominal",
                  "scale": {"domain": ["KEGG_AXON_GUIDANCE", "KEGG_CELL_ADHESION_MOLECULES_CAMS", "KEGG_COMPLEMENT_AND_COAGULATION_CASCADES", "KEGG_CYTOKINE_CYTOKINE_RECEPTOR_INTERACTION", "KEGG_DILATED_CARDIOMYOPATHY", "KEGG_ECM_RECEPTOR_INTERACTION", "KEGG_FOCAL_ADHESION", "KEGG_LEUKOCYTE_TRANSENDOTHELIAL_MIGRATION", "KEGG_PATHWAYS_IN_CANCER", "KEGG_REGULATION_OF_ACTIN_CYTOSKELETON"],
                            "range": ["#F8766D", "#D89000", "#A3A500", "#39B600", "#00BF7D", "#00BFC4", "#00B0F6", "#9590FF", "#E76BF3", "#FF62BC"]},
                  "legend": {"title": null, "orient": "none", "legendX": 401, "legendY": 46.8, "direction": "vertical", "padding": 0, "rowPadding": 7.2, "symbolType": "stroke", "symbolSize": 100, "symbolStrokeWidth": 2.5, "symbolOpacity": 1, "labelFontSize": 13, "labelOffset": -1.5, "labelLimit": 800, "labelColor": "#000"}}
              }
            },
            {
              "data": {"name": "note"},
              "mark": {"type": "text", "align": "right", "baseline": "middle", "fontSize": 14, "color": "#000"},
              "encoding": {"x": {"datum": 12970, "type": "quantitative"}, "y": {"datum": -0.205, "type": "quantitative"}, "text": {"value": "Enriched in high risk subgroup"}}
            },
            {
              "data": {"name": "note"},
              "mark": {"type": "text", "align": "left", "baseline": "alphabetic", "fontSize": 20, "fontWeight": "bold", "color": "#000"},
              "encoding": {"x": {"datum": -1417, "type": "quantitative"}, "y": {"datum": 0.116, "type": "quantitative"}, "text": {"value": "C"}}
            }
          ]
        },
        {
          "data": {"name": "tickC"},
          "transform": [{"flatten": ["rank"]}],
          "mark": {"type": "tick", "orient": "vertical", "thickness": 1.4, "size": 6.4, "opacity": 0.7},
          "encoding": {
            "x": {"field": "rank", "type": "quantitative"},
            "y": {"field": "row", "type": "quantitative", "scale": {"domain": [-0.82, 39.02], "nice": false, "zero": false}, "axis": null},
            "color": {"field": "set", "type": "nominal"}
          }
        }
      ],
      "resolve": {"scale": {"y": "independent"}}
    }
  ],
  "config": {
    "font": "Liberation Sans",
    "view": {"stroke": null},
    "axis": {"labelFont": "Liberation Sans", "titleFont": "Liberation Sans", "labelColor": "#000", "titleColor": "#000", "titleFontWeight": "normal", "labelFontSize": 15, "titleFontSize": 15, "ticks": false, "tickSize": 0, "domainColor": "#888", "domainWidth": 1, "labelOverlap": false},
    "axisX": {"grid": true, "gridColor": "#ebebeb", "gridWidth": 1, "labelPadding": 3.5, "titlePadding": 1, "labelFlush": false},
    "axisY": {"grid": false, "titleFontSize": 15.5},
    "legend": {"labelFont": "Liberation Sans"},
    "text": {"font": "Liberation Sans"}
  }
}
